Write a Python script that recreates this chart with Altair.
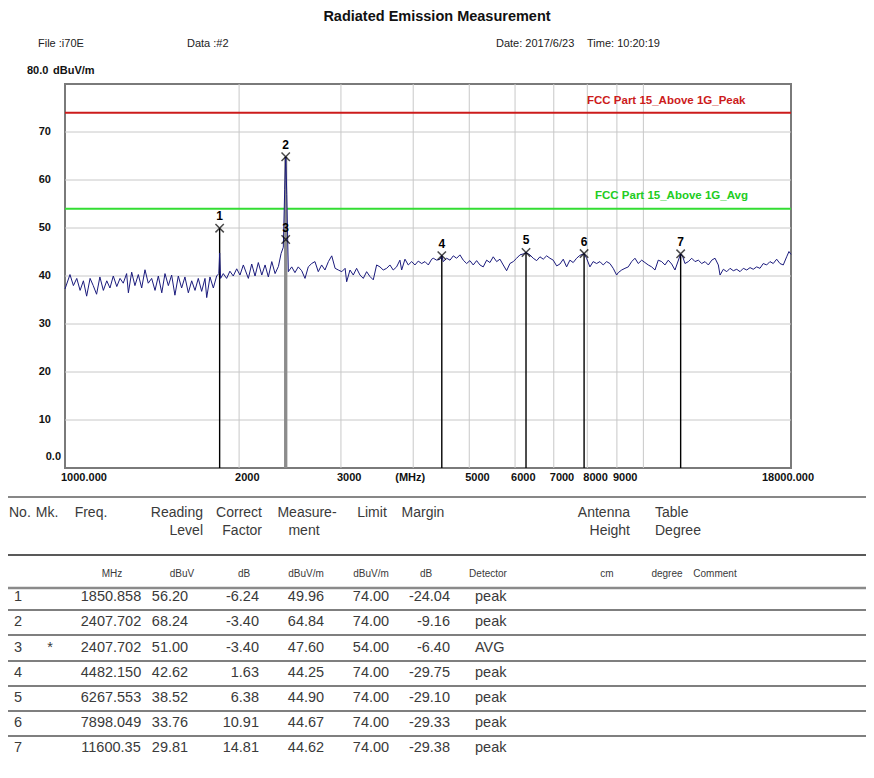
import altair as alt
import pandas as pd

# ------------------------------------------------------------------ data
trace_freq = [
    1000, 1020, 1034, 1048, 1062, 1076, 1090, 1105, 1119, 1134, 1149, 1165, 1181, 1196,
    1212, 1229, 1245, 1261, 1278, 1287, 1304, 1321, 1339, 1357, 1375, 1393, 1412, 1431,
    1450, 1470, 1489, 1509, 1529, 1549, 1570, 1591, 1612, 1634, 1656, 1678, 1700, 1723,
    1746, 1758, 1781, 1805, 1829, 1845, 1851, 1858, 1878, 1903, 1928, 1954, 1981, 2007,
    2034, 2075, 2103, 2131, 2159, 2189, 2218, 2247, 2278, 2308, 2339, 2364, 2385, 2398,
    2408, 2418, 2433, 2466, 2498, 2531, 2566, 2600, 2634, 2670, 2705, 2741, 2778, 2815,
    2854, 2892, 2931, 2969, 3010, 3050, 3069, 3110, 3151, 3193, 3236, 3279, 3323, 3367,
    3412, 3458, 3504, 3550, 3599, 3646, 3694, 3744, 3794, 3820, 3871, 3922, 3976, 4028,
    4081, 4137, 4192, 4248, 4305, 4333, 4392, 4450, 4482, 4509, 4570, 4631, 4692, 4755,
    4818, 4882, 4948, 5013, 5080, 5149, 5217, 5286, 5358, 5429, 5501, 5576, 5650, 5724,
    5802, 5879, 5957, 6038, 6118, 6199, 6268, 6366, 6450, 6539, 6625, 6713, 6804, 6894,
    6985, 7081, 7174, 7269, 7367, 7464, 7563, 7666, 7767, 7898, 7977, 8083, 8189, 8302,
    8411, 8523, 8639, 8753, 8869, 8990, 9049, 9173, 9294, 9417, 9545, 9671, 9799, 9933,
    10064, 10197, 10336, 10473, 10611, 10756, 10898, 11042, 11193, 11341, 11600, 11700,
    11801, 11961, 12124, 12284, 12447, 12616, 12783, 12952, 13129, 13302, 13478, 13570,
    13750, 13937, 14121, 14308, 14503, 14695, 14889, 15092, 15292, 15488, 15700, 15908,
    16118, 16337, 16553, 16772, 17001, 17226, 17454, 17692, 17855, 18000,
]
trace_level = [
    37.3, 40.3, 38.0, 39.5, 37.0, 39.0, 35.8, 39.5, 38.0, 36.2, 39.8, 37.0, 39.0, 37.5,
    40.0, 37.8, 39.5, 38.5, 40.5, 36.5, 40.8, 38.0, 40.3, 37.5, 41.3, 38.5, 39.5, 37.0,
    40.0, 36.5, 40.5, 38.0, 40.2, 36.0, 40.0, 37.5, 39.8, 36.5, 39.0, 37.0, 39.5, 36.8,
    39.5, 35.5, 39.8, 37.5, 40.0, 40.5, 44.8, 39.5, 40.5, 39.5, 41.0, 40.0, 41.5, 40.2,
    42.3, 39.5, 42.5, 40.0, 42.8, 40.2, 42.3, 39.8, 43.0, 40.5, 42.0, 44.7, 46.0, 58.0,
    64.84, 57.0, 40.9, 41.9, 40.7, 41.9, 41.1, 39.5, 41.9, 42.6, 43.0, 40.9, 42.3, 41.25,
    43.0, 44.2, 41.6, 41.25, 40.9, 41.6, 38.8, 41.25, 40.2, 41.6, 40.2, 39.5, 40.9, 39.9,
    39.2, 42.3, 41.9, 41.25, 41.6, 42.3, 41.25, 41.9, 43.3, 41.25, 43.5, 42.3, 43.0, 42.3,
    43.1, 42.6, 43.0, 42.3, 43.5, 43.7, 43.3, 43.5, 44.25, 43.0, 43.7, 43.3, 44.2, 43.7,
    44.4, 43.3, 42.6, 43.2, 42.3, 43.2, 42.3, 41.9, 43.3, 42.8, 44.0, 43.0, 43.5, 42.3,
    41.1, 42.6, 43.0, 43.7, 44.4, 44.6, 44.9, 44.4, 43.7, 43.2, 44.0, 43.5, 44.2, 43.7,
    43.3, 42.1, 42.5, 43.5, 41.9, 43.3, 42.8, 43.7, 44.3, 44.67, 43.7, 41.9, 43.0, 42.6,
    43.0, 42.3, 43.0, 42.6, 41.6, 40.2, 40.7, 41.25, 41.6, 41.9, 43.0, 43.7, 42.6, 43.3,
    42.8, 42.3, 41.9, 41.25, 43.3, 43.0, 42.3, 43.3, 42.5, 41.25, 44.62, 44.0,
    42.6, 43.0, 43.7, 43.0, 43.3, 42.6, 43.0, 42.3, 43.3, 43.7, 42.3, 40.2,
    41.4, 40.9, 41.6, 41.1, 41.4, 40.9, 41.6, 41.25, 41.75, 41.4, 41.9, 41.6,
    42.6, 42.3, 43.0, 42.6, 43.5, 42.6, 42.3, 44.0, 45.1, 44.5,
]

mk_no = ["1", "2", "3", "4", "5", "6", "7"]
mk_flag = ["", "", "*", "", "", "", ""]
mk_freq = [1850.858, 2407.702, 2407.702, 4482.150, 6267.553, 7898.049, 11600.35]
mk_reading = [56.20, 68.24, 51.00, 42.62, 38.52, 33.76, 29.81]
mk_correct = [-6.24, -3.40, -3.40, 1.63, 6.38, 10.91, 14.81]
mk_measure = [49.96, 64.84, 47.60, 44.25, 44.90, 44.67, 44.62]
mk_limit = [74.00, 74.00, 54.00, 74.00, 74.00, 74.00, 74.00]
mk_margin = [-24.04, -9.16, -6.40, -29.75, -29.10, -29.33, -29.38]
mk_detector = ["peak", "peak", "AVG", "peak", "peak", "peak", "peak"]

limit_names = ["FCC Part 15_Above 1G_Peak", "FCC Part 15_Above 1G_Avg"]
limit_levels = [74, 54]

y_ticks = [10, 20, 30, 40, 50, 60, 70]
y_tick_text = ["10", "20", "30", "40", "50", "60", "70"]
x_grid = [2000, 3000, 4000, 5000, 6000, 7000, 8000, 9000, 10000]
x_tick_vals = [1000, 2000, 3000, 4000, 5000, 6000, 7000, 8000, 9000, 18000]
x_tick_text = ["1000.000", "2000", "3000", "(MHz)", "5000", "6000", "7000",
               "8000", "9000", "18000.000"]

title_text = "Radiated Emission Measurement"
info_text = ["File :i70E", "Data :#2", "Date: 2017/6/23", "Time: 10:20:19"]
y_unit_text = ["80.0", "dBuV/m"]
head1_text = ["No.", "Mk.", "Freq.", "Reading", "Correct", "Measure-", "Limit",
              "Margin", "Antenna", "Table"]
head2_text = ["Level", "Factor", "ment", "Height", "Degree"]
unit_text = ["MHz", "dBuV", "dB", "dBuV/m", "dBuV/m", "dB", "Detector", "cm",
             "degree", "Comment"]

# ------------------------------------------------------------------ layout / style
W, H = 726, 384
SANS = "Liberation Sans, Arial, sans-serif"
TRACE = "#1b1b7d"
GRID = "#c8c8c8"
LBL = "#111111"

info_x = [38, 187, 496, 587]
head1_pos = [(9, "left"), (47, "center"), (91, "center"), (203, "right"),
             (262, "right"), (307, "center"), (372, "center"), (423, "center"),
             (630, "right"), (655, "left")]
head2_pos = [(203, "right"), (262, "right"), (304, "center"), (630, "right"),
             (655, "left")]
unit_x = [112, 182, 244, 306, 371, 426, 488, 607, 667, 715]
row_y = [597, 622, 648, 673, 698, 723, 748]
row_line_y = [610, 635, 661, 686, 711, 736]
col_center = {"no": 18, "flag": 50, "freq": 111, "reading": 170,
              "measure": 306, "limit": 371}
col_right = {"correct": 259, "margin": 450}
col_left = {"detector": 475}

xs = alt.Scale(type="log", domain=[1000, 18000], nice=False)
ys = alt.Scale(domain=[0, 80], nice=False, zero=False)
PX = alt.Scale(domain=[0, 874], range=[-65, 809], nice=False, zero=False)
PY = alt.Scale(domain=[0, 778], range=[-84, 694], nice=False, zero=False)

# ------------------------------------------------------------------ plot layers
df_trace = pd.DataFrame({"freq": trace_freq, "level": trace_level})
df_mk = pd.DataFrame({"no": mk_no, "freq": mk_freq, "meas": mk_measure})
df_lim = pd.DataFrame({"name": limit_names, "level": limit_levels})
df_yt = pd.DataFrame({"v": y_ticks, "t": y_tick_text})
df_xg = pd.DataFrame({"v": x_grid})
df_xt = pd.DataFrame({"v": x_tick_vals, "t": x_tick_text})

hgrid = alt.Chart(df_yt).mark_rule(color=GRID, strokeWidth=1).encode(
    y=alt.Y("v:Q", scale=ys, axis=None))
vgrid = alt.Chart(df_xg).mark_rule(color=GRID, strokeWidth=1).encode(
    x=alt.X("v:Q", scale=xs, axis=None))

ylabels = alt.Chart(df_yt).mark_text(
    align="right", baseline="middle", font=SANS, fontWeight="bold",
    fontSize=11, color=LBL).encode(
    x=alt.value(-14), y=alt.Y("v:Q", scale=ys, axis=None), text="t:N")

zero_lbl = alt.Chart(pd.DataFrame({"v": [0], "t": ["0.0"]})).mark_text(
    align="right", baseline="middle", dy=-11, font=SANS, fontWeight="bold",
    fontSize=11, color=LBL).encode(
    x=alt.value(-4), y=alt.Y("v:Q", scale=ys, axis=None), text="t:N")

lim_rules = alt.Chart(df_lim).mark_rule(strokeWidth=2).encode(
    y=alt.Y("level:Q", scale=ys, axis=None),
    color=alt.Color("name:N", scale=alt.Scale(domain=limit_names,
                                              range=["#cc1b1b", "#33dd33"]), legend=None),
)

mk_rules = alt.Chart(df_mk).mark_rule(color="#000000", strokeWidth=1.4).encode(
    x=alt.X("freq:Q", scale=xs, axis=None),
    y=alt.Y("meas:Q", scale=ys, axis=None),
    y2=alt.datum(0),
)
mk_rules_gray = alt.Chart(df_mk).transform_filter(
    alt.datum.freq == mk_freq[1]).mark_rule(color="#8c8c8c", strokeWidth=3).encode(
    x=alt.X("freq:Q", scale=xs, axis=None),
    y=alt.Y("meas:Q", scale=ys, axis=None),
    y2=alt.datum(0),
)

trace = alt.Chart(df_trace).mark_line(color=TRACE, strokeWidth=1).encode(
    x=alt.X("freq:Q", scale=xs, axis=None),
    y=alt.Y("level:Q", scale=ys, axis=None),
)

mk_x = alt.Chart(df_mk).mark_point(
    shape="M-1,-1L1,1M-1,1L1,-1", filled=False, color="#000000",
    strokeWidth=1.5, size=70).encode(
    x=alt.X("freq:Q", scale=xs, axis=None),
    y=alt.Y("meas:Q", scale=ys, axis=None),
)
mk_num = alt.Chart(df_mk).mark_text(
    dy=-12, font=SANS, fontWeight="bold", fontSize=12, color="#000000",
    baseline="middle").encode(
    x=alt.X("freq:Q", scale=xs, axis=None),
    y=alt.Y("meas:Q", scale=ys, axis=None),
    text="no:N",
)

lim_text_peak = alt.Chart(df_lim.iloc[[0]]).mark_text(
    align="left", baseline="middle", dy=-12, font=SANS, fontWeight="bold",
    fontSize=11.5, color="#cc1b1b").encode(
    x=alt.value(522), y=alt.Y("level:Q", scale=ys, axis=None), text="name:N")
lim_text_avg = alt.Chart(df_lim.iloc[[1]]).mark_text(
    align="left", baseline="middle", dy=-13, font=SANS, fontWeight="bold",
    fontSize=11.5, color="#22cc22").encode(
    x=alt.value(530), y=alt.Y("level:Q", scale=ys, axis=None), text="name:N")

centered = ["(MHz)", "18000.000"]
xt_left = alt.Chart(df_xt).transform_filter(
    ~alt.FieldOneOfPredicate(field="t", oneOf=centered)).mark_text(
    align="left", baseline="middle", dx=-4, font=SANS, fontWeight="bold",
    fontSize=11, color=LBL).encode(
    x=alt.X("v:Q", scale=xs, axis=None), y=alt.value(H + 10), text="t:N")
xt_center = alt.Chart(df_xt).transform_filter(
    alt.FieldOneOfPredicate(field="t", oneOf=centered)).mark_text(
    align="center", baseline="middle", dx=-3, font=SANS, fontWeight="bold",
    fontSize=11, color=LBL).encode(
    x=alt.X("v:Q", scale=xs, axis=None), y=alt.value(H + 10), text="t:N")

plot = alt.layer(hgrid, vgrid, lim_rules, mk_rules, mk_rules_gray, trace,
                 mk_x, mk_num, lim_text_peak, lim_text_avg, xt_left, xt_center,
                 ylabels, zero_lbl)

# ------------------------------------------------------------------ page (header + table)
def page_text(rows, align="left", size=12, weight="normal", color="#222222", font=SANS):
    df = pd.DataFrame(rows, columns=["px", "py", "txt"])
    return alt.Chart(df).mark_text(
        align=align, baseline="middle", fontSize=size, fontWeight=weight,
        color=color, font=font).encode(
        x=alt.X("px:Q", scale=PX, axis=None),
        y=alt.Y("py:Q", scale=PY, axis=None),
        text="txt:N")


def page_rules(ys_list, color, width):
    df = pd.DataFrame({"py": ys_list, "x1": [0] * len(ys_list), "x2": [874] * len(ys_list)})
    return alt.Chart(df).mark_rule(color=color, strokeWidth=width).encode(
        x=alt.X("x1:Q", scale=PX, axis=None), x2="x2:Q",
        y=alt.Y("py:Q", scale=PY, axis=None))


layers = []
layers.append(page_text([(437, 17, title_text)], align="center", size=14.5,
                        weight="bold", color=LBL))
layers.append(page_text([(x, 44, t) for x, t in zip(info_x, info_text)],
                        size=11, color="#222222"))
layers.append(page_text([(27, 71, y_unit_text[0]), (53, 71, y_unit_text[1])],
                        size=11, weight="bold", color=LBL))

TBL = "#3a3a3a"
for al in ["left", "center", "right"]:
    rows = [(p[0], 513, t) for p, t in zip(head1_pos, head1_text) if p[1] == al]
    rows += [(p[0], 531, t) for p, t in zip(head2_pos, head2_text) if p[1] == al]
    if rows:
        layers.append(page_text(rows, align=al, size=14, color=TBL))
layers.append(page_text([(x, 574, t) for x, t in zip(unit_x, unit_text)],
                        align="center", size=10, color=TBL))

fmt2 = lambda v: f"{v:.2f}"
cells_c, cells_r, cells_l = [], [], []
for i in range(len(mk_no)):
    y = row_y[i]
    cells_c.append((col_center["no"], y, mk_no[i]))
    if mk_flag[i]:
        cells_c.append((col_center["flag"], y, mk_flag[i]))
    cells_c.append((col_center["freq"], y, f"{mk_freq[i]:.3f}"[:8]))
    cells_c.append((col_center["reading"], y, fmt2(mk_reading[i])))
    cells_c.append((col_center["measure"], y, fmt2(mk_measure[i])))
    cells_c.append((col_center["limit"], y, fmt2(mk_limit[i])))
    cells_r.append((col_right["correct"], y, fmt2(mk_correct[i])))
    cells_r.append((col_right["margin"], y, fmt2(mk_margin[i])))
    cells_l.append((col_left["detector"], y, mk_detector[i]))
layers.append(page_text(cells_c, align="center", size=14.5, color=TBL))
layers.append(page_text(cells_r, align="right", size=14.5, color=TBL))
layers.append(page_text(cells_l, align="left", size=14.5, color=TBL))

layers.append(page_rules([497], "#111111", 1.2))
layers.append(page_rules([555], "#222222", 1.5))
layers.append(page_rules([588], "#8a8a8a", 2.5))
layers.append(page_rules(row_line_y, "#555555", 1.5))

page = alt.layer(*layers)

chart = alt.layer(plot, page).resolve_scale(
    x="independent", y="independent"
).properties(
    width=W, height=H,
    autosize=alt.AutoSizeParams(type="none"),
    padding={"left": 57, "top": 76, "right": 75, "bottom": 302},
    background="#ffffff",
).configure_view(
    stroke="#7a7a7a", strokeWidth=2
)

chart.save("out.html", embed_options={"renderer": "svg", "actions": False})
